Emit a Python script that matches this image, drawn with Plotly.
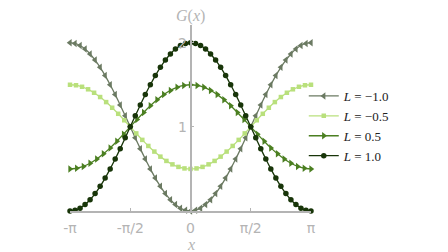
import numpy as np
import plotly.graph_objects as go

# x grids (degrees) for each series
X_DEG_A = [-180, -172.5, -165, -157.5, -150, -142.5, -135, -127.5, -120, -112.5, -105, -97.5,
           -90, -82.5, -75, -67.5, -60, -52.5, -45, -37.5, -30, -22.5, -15, -7.5, 0,
           7.5, 15, 22.5, 30, 37.5, 45, 52.5, 60, 67.5, 75, 82.5, 90, 97.5, 105, 112.5,
           120, 127.5, 135, 142.5, 150, 157.5, 165, 172.5, 180]
X_DEG_B = [-180, -171, -162, -153, -144, -135, -126, -117, -108, -99, -90, -81, -72, -63,
           -54, -45, -36, -27, -18, -9, 0, 9, 18, 27, 36, 45, 54, 63, 72, 81, 90, 99, 108,
           117, 126, 135, 144, 153, 162, 171, 180]
X_DEG_C = [-180, -170, -160, -150, -140, -130, -120, -110, -100, -90, -80, -70, -60, -50,
           -40, -30, -20, -10, 0, 10, 20, 30, 40, 50, 60, 70, 80, 90, 100, 110, 120, 130,
           140, 150, 160, 170, 180]

G_M10 = [2, 1.991, 1.966, 1.924, 1.866, 1.793, 1.707, 1.609, 1.5, 1.383, 1.259, 1.131, 1,
         0.869, 0.741, 0.617, 0.5, 0.391, 0.293, 0.207, 0.134, 0.076, 0.034, 0.009, 0,
         0.009, 0.034, 0.076, 0.134, 0.207, 0.293, 0.391, 0.5, 0.617, 0.741, 0.869, 1,
         1.131, 1.259, 1.383, 1.5, 1.609, 1.707, 1.793, 1.866, 1.924, 1.966, 1.991, 2]
G_M05 = [1.5, 1.494, 1.476, 1.446, 1.405, 1.354, 1.294, 1.227, 1.155, 1.078, 1, 0.922,
         0.845, 0.773, 0.706, 0.646, 0.595, 0.554, 0.524, 0.506, 0.5, 0.506, 0.524, 0.554,
         0.595, 0.646, 0.706, 0.773, 0.845, 0.922, 1, 1.078, 1.155, 1.227, 1.294, 1.354,
         1.405, 1.446, 1.476, 1.494, 1.5]
G_P05 = [0.5, 0.508, 0.53, 0.567, 0.617, 0.679, 0.75, 0.829, 0.913, 1, 1.087, 1.171, 1.25,
         1.321, 1.383, 1.433, 1.47, 1.492, 1.5, 1.492, 1.47, 1.433, 1.383, 1.321, 1.25,
         1.171, 1.087, 1, 0.913, 0.829, 0.75, 0.679, 0.617, 0.567, 0.53, 0.508, 0.5]
G_P10 = [0, 0.009, 0.034, 0.076, 0.134, 0.207, 0.293, 0.391, 0.5, 0.617, 0.741, 0.869, 1,
         1.131, 1.259, 1.383, 1.5, 1.609, 1.707, 1.793, 1.866, 1.924, 1.966, 1.991, 2,
         1.991, 1.966, 1.924, 1.866, 1.793, 1.707, 1.609, 1.5, 1.383, 1.259, 1.131, 1,
         0.869, 0.741, 0.617, 0.5, 0.391, 0.293, 0.207, 0.134, 0.076, 0.034, 0.009, 0]

LABELS = ["<i>L</i> = \u22121.0", "<i>L</i> = \u22120.5", "<i>L</i> = 0.5", "<i>L</i> = 1.0"]
X_TICKS = ["-\u03c0", "-\u03c0/2", "0", "\u03c0/2", "\u03c0"]
Y_TICKS = ["1", "2"]

series = [
    (X_DEG_A, G_M10, LABELS[0], "#6b7a62", "triangle-left", 6.5),
    (X_DEG_B, G_M05, LABELS[1], "#b9e07c", "square", 4.5),
    (X_DEG_C, G_P05, LABELS[2], "#4b7f21", "triangle-right", 6.5),
    (X_DEG_A, G_P10, LABELS[3], "#183509", "circle", 5.5),
]

AX = "#b4b4b4"
fig = go.Figure()
for xd, y, name, col, sym, sz in series:
    fig.add_trace(go.Scatter(
        x=np.radians(xd), y=y, name=name, mode="lines+markers",
        line=dict(color=col, width=1.3, shape="spline", smoothing=0.6),
        marker=dict(symbol=sym, size=sz, color=col, line=dict(width=0)),
        cliponaxis=False,
    ))

fig.update_layout(
    width=440, height=244,
    margin=dict(l=62, r=137, t=17, b=41),
    paper_bgcolor="white", plot_bgcolor="white",
    showlegend=True,
    legend=dict(x=0.97, xanchor="left", y=0.457, yanchor="middle",
                font=dict(family="Liberation Serif", size=13, color="#222"),
                bgcolor="rgba(0,0,0,0)", itemwidth=30, tracegroupgap=0),
    xaxis=dict(range=[-np.pi, np.pi], tickvals=[-np.pi, -np.pi / 2, 0, np.pi / 2, np.pi],
               ticktext=X_TICKS, showline=True, linecolor=AX, linewidth=1.5,
               ticks="inside", ticklen=3, tickcolor=AX, tickwidth=1,
               showgrid=False, zeroline=False, ticklabelstandoff=3,
               tickfont=dict(family="DejaVu Sans", size=14, color=AX)),
    yaxis=dict(range=[0, 2.21], tickvals=[1, 2], ticktext=Y_TICKS,
               anchor="free", position=0.5, showline=True, linecolor=AX, linewidth=1.5,
               ticks="inside", ticklen=3, tickcolor=AX, tickwidth=1,
               showgrid=False, zeroline=False,
               tickfont=dict(family="DejaVu Sans", size=14, color=AX)),
    annotations=[
        dict(x=0, xref="x", y=1.048, yref="paper", text="<i>G</i>(<i>x</i>)",
             showarrow=False, xanchor="center", yanchor="middle",
             font=dict(family="Liberation Serif", size=16, color=AX)),
        dict(x=0, xref="x", y=-0.178, yref="paper", text="<i>x</i>",
             showarrow=False, xanchor="center", yanchor="middle",
             font=dict(family="Liberation Serif", size=16, color=AX)),
    ],
)

fig.write_html("out.html")
